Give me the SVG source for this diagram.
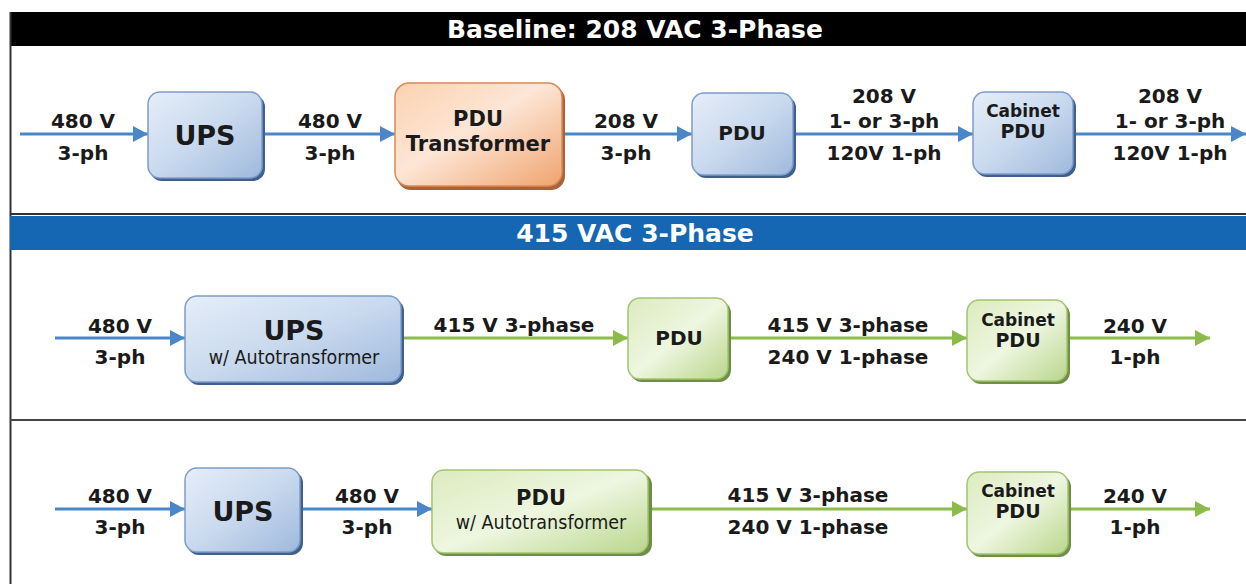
<svg xmlns="http://www.w3.org/2000/svg" width="1246" height="584" viewBox="0 0 1246 584">
<defs>
<linearGradient id="gBlue" x1="0" y1="0" x2="1" y2="1">
<stop offset="0" stop-color="#e6eef8"/><stop offset="0.5" stop-color="#c9d9ee"/><stop offset="1" stop-color="#9fb9dc"/>
</linearGradient>
<linearGradient id="gOrange" x1="0" y1="0" x2="1" y2="1">
<stop offset="0" stop-color="#fbd2b0"/><stop offset="0.45" stop-color="#fde6d6"/><stop offset="1" stop-color="#f0a36e"/>
</linearGradient>
<linearGradient id="gGreen" x1="0" y1="0" x2="1" y2="1">
<stop offset="0" stop-color="#dcebbf"/><stop offset="0.5" stop-color="#eef6e0"/><stop offset="1" stop-color="#b9d68c"/>
</linearGradient>
<marker id="aBlue" markerUnits="userSpaceOnUse" markerWidth="16" markerHeight="16" refX="15" refY="8" orient="auto">
<path d="M0,0 L15,8 L0,16 Z" fill="#4a86c8"/>
</marker>
<marker id="aGreen" markerUnits="userSpaceOnUse" markerWidth="16" markerHeight="16" refX="15" refY="8" orient="auto">
<path d="M0,0 L15,8 L0,16 Z" fill="#8cbb4c"/>
</marker>
<style>
.t{font-family:"DejaVu Sans","Verdana",sans-serif;font-weight:bold;fill:#1a1a1a;text-anchor:middle}
.lab{font-size:20px}
.n{font-family:"DejaVu Sans Condensed","DejaVu Sans",sans-serif;font-size:19.5px;fill:#1a1a1a;text-anchor:middle}
.hdr{font-family:"DejaVu Sans","Verdana",sans-serif;font-weight:bold;font-size:25px;fill:#ffffff;text-anchor:middle}
.cb{fill:none;stroke:#4a86c8;stroke-width:3;marker-end:url(#aBlue)}
.cg{fill:none;stroke:#8cbb4c;stroke-width:3;marker-end:url(#aGreen)}
.bb{fill:url(#gBlue);stroke:#7d9ccb;stroke-width:1.5}
.bo{fill:url(#gOrange);stroke:#d98a58;stroke-width:1.5}
.bg{fill:url(#gGreen);stroke:#a3c472;stroke-width:1.5}
.sb{fill:#3f5f8c}
.so{fill:#a8633a}
.sg{fill:#6f8f44}
</style>
</defs>
<rect x="0" y="0" width="1246" height="584" fill="#ffffff"/>
<g id="frame">
<rect x="10" y="12" width="1240" height="34" fill="#000000"/>
<text class="hdr" x="635" y="38">Baseline: 208 VAC 3-Phase</text>
<line x1="10.5" y1="12" x2="10.5" y2="584" stroke="#333" stroke-width="2"/>
<line x1="10" y1="214" x2="1246" y2="214" stroke="#333" stroke-width="2"/>
<rect x="10" y="216" width="1240" height="34" fill="#1567b4"/>
<text class="hdr" x="635" y="242">415 VAC 3-Phase</text>
<line x1="10" y1="420" x2="1246" y2="420" stroke="#444" stroke-width="2"/>
</g>
<g id="connectors">
<line class="cb" x1="20" y1="134" x2="148" y2="134"/>
<line class="cb" x1="265" y1="134" x2="395" y2="134"/>
<line class="cb" x1="565" y1="134" x2="692" y2="134"/>
<line class="cb" x1="795" y1="134" x2="973" y2="134"/>
<line class="cb" x1="1076" y1="134" x2="1246" y2="134"/>
<line class="cb" x1="55" y1="338" x2="185" y2="338"/>
<line class="cg" x1="404" y1="338" x2="628" y2="338"/>
<line class="cg" x1="731" y1="338" x2="967" y2="338"/>
<line class="cg" x1="1070" y1="338" x2="1210" y2="338"/>
<line class="cb" x1="55" y1="509" x2="185" y2="509"/>
<line class="cb" x1="303" y1="509" x2="432" y2="509"/>
<line class="cg" x1="651" y1="509" x2="967" y2="509"/>
<line class="cg" x1="1071" y1="509" x2="1210" y2="509"/>
</g>
<g id="labels">
<text class="t lab" x="83" y="128">480 V</text><text class="t lab" x="83" y="160">3-ph</text>
<text class="t lab" x="330" y="128">480 V</text><text class="t lab" x="330" y="160">3-ph</text>
<text class="t lab" x="626" y="128">208 V</text><text class="t lab" x="626" y="160">3-ph</text>
<text class="t lab" x="884" y="103">208 V</text><text class="t lab" x="884" y="128">1- or 3-ph</text><text class="t lab" x="884" y="160">120V 1-ph</text>
<text class="t lab" x="1170" y="103">208 V</text><text class="t lab" x="1170" y="128">1- or 3-ph</text><text class="t lab" x="1170" y="160">120V 1-ph</text>
<text class="t lab" x="120" y="333">480 V</text><text class="t lab" x="120" y="364">3-ph</text>
<text class="t lab" x="514" y="332">415 V 3-phase</text>
<text class="t lab" x="848" y="332">415 V 3-phase</text><text class="t lab" x="848" y="364">240 V 1-phase</text>
<text class="t lab" x="1135" y="333">240 V</text><text class="t lab" x="1135" y="364">1-ph</text>
<text class="t lab" x="120" y="503">480 V</text><text class="t lab" x="120" y="534">3-ph</text>
<text class="t lab" x="367" y="503">480 V</text><text class="t lab" x="367" y="534">3-ph</text>
<text class="t lab" x="808" y="502">415 V 3-phase</text><text class="t lab" x="808" y="534">240 V 1-phase</text>
<text class="t lab" x="1135" y="503">240 V</text><text class="t lab" x="1135" y="534">1-ph</text>
</g>
<g id="n-ups1">
<rect class="sb" x="150" y="95" width="115" height="86" rx="12"/>
<rect class="bb" x="148" y="92" width="114" height="86" rx="12"/>
<text class="t" x="205" y="145" font-size="27">UPS</text>
</g>
<g id="n-pdutx">
<rect class="so" x="397" y="86" width="168" height="104" rx="14"/>
<rect class="bo" x="395" y="83" width="167" height="103" rx="14"/>
<text class="t" x="478" y="126" font-size="21">PDU</text>
<text class="t" x="478" y="151" font-size="21">Transformer</text>
</g>
<g id="n-pdu1">
<rect class="sb" x="694" y="96" width="102" height="82" rx="12"/>
<rect class="bb" x="692" y="93" width="101" height="82" rx="12"/>
<text class="t" x="742" y="140" font-size="20">PDU</text>
</g>
<g id="n-cab1">
<rect class="sb" x="975" y="95" width="101" height="82" rx="12"/>
<rect class="bb" x="973" y="92" width="100" height="82" rx="12"/>
<text class="t" x="1023" y="117" font-size="17">Cabinet</text>
<text class="t" x="1023" y="138" font-size="19">PDU</text>
</g>
<g id="n-ups2">
<rect class="sb" x="187" y="299" width="217" height="86" rx="12"/>
<rect class="bb" x="185" y="296" width="216" height="86" rx="12"/>
<text class="t" x="294" y="340" font-size="27">UPS</text>
<text class="n" x="294" y="364">w/ Autotransformer</text>
</g>
<g id="n-pdu2">
<rect class="sg" x="630" y="301" width="101" height="81" rx="12"/>
<rect class="bg" x="628" y="298" width="100" height="81" rx="12"/>
<text class="t" x="679" y="345" font-size="20">PDU</text>
</g>
<g id="n-cab2">
<rect class="sg" x="969" y="303" width="101" height="81" rx="12"/>
<rect class="bg" x="967" y="300" width="100" height="81" rx="12"/>
<text class="t" x="1018" y="326" font-size="17">Cabinet</text>
<text class="t" x="1018" y="347" font-size="19">PDU</text>
</g>
<g id="n-ups3">
<rect class="sb" x="187" y="471" width="116" height="84" rx="12"/>
<rect class="bb" x="185" y="468" width="115" height="84" rx="12"/>
<text class="t" x="243" y="521" font-size="27">UPS</text>
</g>
<g id="n-pdu3">
<rect class="sg" x="434" y="473" width="218" height="83" rx="12"/>
<rect class="bg" x="432" y="470" width="216" height="83" rx="12"/>
<text class="t" x="541" y="505" font-size="21">PDU</text>
<text class="n" x="541" y="529">w/ Autotransformer</text>
</g>
<g id="n-cab3">
<rect class="sg" x="969" y="475" width="102" height="82" rx="12"/>
<rect class="bg" x="967" y="472" width="101" height="82" rx="12"/>
<text class="t" x="1018" y="497" font-size="17">Cabinet</text>
<text class="t" x="1018" y="518" font-size="19">PDU</text>
</g>
</svg>
